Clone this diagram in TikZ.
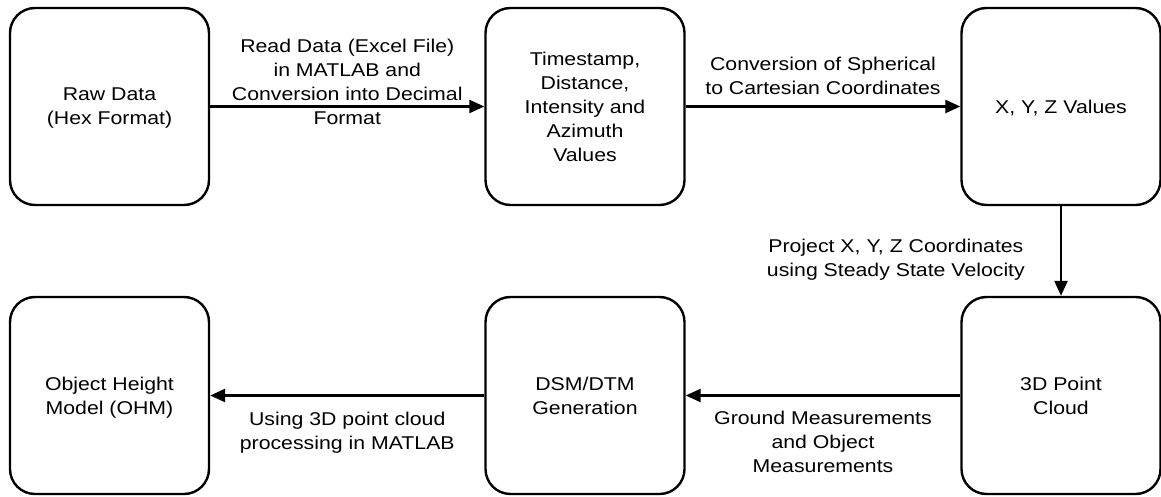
\documentclass[tikz,border=0pt]{standalone}
\usepackage{fontspec}
\setmainfont{Liberation Sans}[FakeStretch=1.15]
\usetikzlibrary{arrows.meta}
\begin{document}
\begin{tikzpicture}[x=1pt,y=-1pt,
  font=\fontsize{18.5}{24}\selectfont,
  box/.style={draw=black, line width=2.4pt, rounded corners=25pt, inner sep=0pt,
    minimum width=199pt, minimum height=197pt, align=center, text depth=0pt},
  conn/.style={line width=2.4pt, -{Triangle[length=15pt,width=13pt]}},
  lbl/.style={align=center, inner sep=0pt, text depth=0pt}]
\useasboundingbox (0,0) rectangle (1161,497);
\node[box] (raw) at (109.5,106.5) {Raw Data\\(Hex Format)};
\node[box] (ts) at (585,106.5) {Timestamp,\\Distance,\\Intensity and\\Azimuth\\Values};
\node[box] (xyz) at (1061,106.5) {X, Y, Z Values};
\node[box] (ohm) at (109.5,395.5) {Object Height\\Model (OHM)};
\node[box] (dsm) at (585,395.5) {DSM/DTM\\Generation};
\node[box] (pc) at (1061,395.5) {3D Point\\Cloud};
\draw[conn] (raw) -- node[lbl, midway, yshift=24.5pt] {Read Data (Excel File)\\in MATLAB and\\Conversion into Decimal\\Format} (ts);
\draw[conn] (ts) -- node[lbl, midway, yshift=30.5pt] {Conversion of Spherical\\to Cartesian Coordinates} (xyz);
\draw[conn] (xyz) -- node[lbl, midway, anchor=east, xshift=-35pt, yshift=-7pt] {Project X, Y, Z Coordinates\\using Steady State Velocity} (pc);
\draw[conn] (pc) -- node[lbl, midway, yshift=-46.5pt] {Ground Measurements\\and Object\\Measurements} (dsm);
\draw[conn] (dsm) -- node[lbl, midway, yshift=-35.5pt] {Using 3D point cloud\\processing in MATLAB} (ohm);
\end{tikzpicture}
\end{document}
